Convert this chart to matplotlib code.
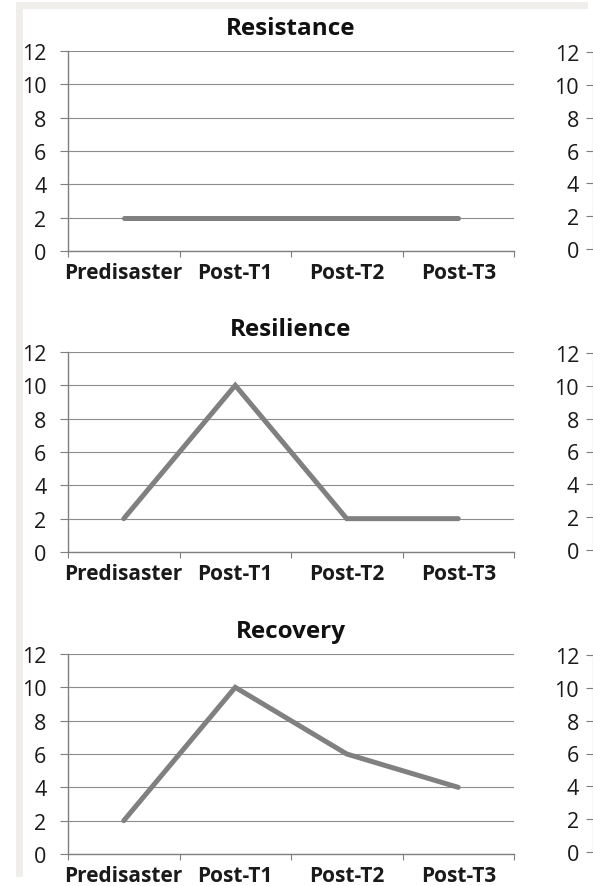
import matplotlib.pyplot as plt
from matplotlib.patches import Rectangle

# data
stages = ['Predisaster', 'Post-T1', 'Post-T2', 'Post-T3']
resistance = [2, 2, 2, 2]
resilience = [2, 10, 2, 2]
recovery = [2, 10, 6, 4]
y_ticks = [0, 2, 4, 6, 8, 10, 12]

panels = [('Resistance', resistance), ('Resilience', resilience), ('Recovery', recovery)]

W, H = 593, 887
plt.rcParams['font.family'] = ['Open Sans', 'DejaVu Sans']
fig = plt.figure(figsize=(W / 100, H / 100), dpi=100)
fig.patch.set_facecolor('white')

# the gray frame strips at left and top of the scan
frame = '#efeeea'
fig.add_artist(Rectangle((16 / W, 1 - 878 / H), 7 / W, 875 / H, transform=fig.transFigure,
                         color=frame, lw=0, zorder=0))
fig.add_artist(Rectangle((16 / W, 1 - 10 / H), 572 / W, 7 / H, transform=fig.transFigure,
                         color=frame, lw=0, zorder=0))

# pixel rows of the y=12 and y=0 lines for each panel
rows = [(52, 252), (353, 553), (655, 855)]
axis_col = '#7f7f7f'
txt = '#1a1a1a'

for (title, vals), (top, bot) in zip(panels, rows):
    ax = fig.add_axes([68 / W, 1 - bot / H, (514 - 68) / W, (bot - top) / H])
    ax.plot(range(len(stages)), vals, color='#808080', lw=3.6, solid_capstyle='round',
            solid_joinstyle='miter', zorder=3)
    ax.set_xlim(-0.5, 3.5)
    ax.set_ylim(0, 12)
    ax.set_yticks(y_ticks)
    ax.set_xticks([-0.5, 0.5, 1.5, 2.5, 3.5])
    ax.set_xticklabels([])
    ax.set_xticks(range(len(stages)), minor=True)
    ax.set_xticklabels(stages, minor=True, fontweight='bold', fontsize=15, color=txt)
    ax.tick_params(axis='x', which='minor', length=0, pad=8)
    ax.tick_params(axis='x', which='major', length=4, direction='out', color=axis_col)
    ax.tick_params(axis='y', length=5.5, direction='out', color=axis_col, labelsize=15.5,
                   labelcolor=txt, pad=10)
    ax.grid(axis='y', color='#8c8c8c', lw=0.8)
    ax.set_axisbelow(True)
    for s in ['top', 'right']:
        ax.spines[s].set_visible(False)
    for s in ['left', 'bottom']:
        ax.spines[s].set_color(axis_col)
        ax.spines[s].set_linewidth(1.0)
    ax.set_title(title, fontweight='bold', fontsize=17.5, pad=12, color='#111111')

    # cut-off neighbouring chart at the right edge
    ax2 = fig.add_axes([1.0, 1 - (bot - 2) / H, 0.2, (bot - top - 3) / H])
    ax2.set_ylim(0, 12)
    ax2.set_yticks(y_ticks)
    ax2.set_xticks([])
    ax2.tick_params(axis='y', length=5, direction='out', color=axis_col, labelsize=15.5,
                    labelcolor=txt, pad=5)
    for s in ['top', 'right', 'bottom']:
        ax2.spines[s].set_visible(False)
    ax2.spines['left'].set_color(axis_col)

fig.savefig('out.png', dpi=100)
